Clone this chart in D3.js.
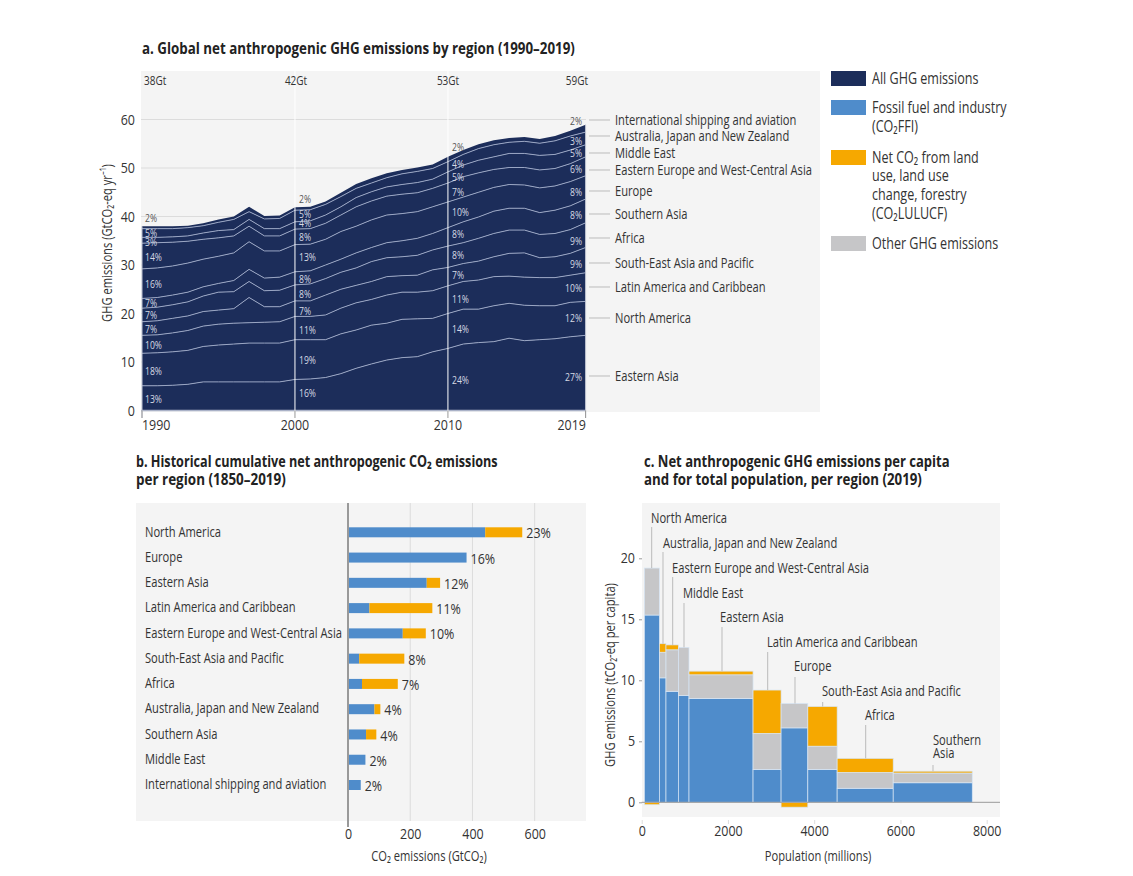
<!DOCTYPE html>
<html>
<head>
<meta charset="utf-8">
<script src="https://cdn.jsdelivr.net/npm/d3@7"></script>
<style>
  html, body { margin: 0; padding: 0; background: #fff; }
  svg { display: block; }
  text { font-family: "Open Sans", "Noto Sans", sans-serif; fill: #333; }
  .title { font-weight: bold; font-size: 15.5px; fill: #222; }
  .label { font-size: 15px; }
  .num { font-size: 14.5px; }
  .total { font-size: 12.5px; }
  .legend { font-size: 15.5px; }
  .pct { font-size: 10.5px; fill: #d5d9e4; }
</style>
</head>
<body>
<div id="chart"></div>
<script>
// panel a: emissions per region, GtCO2-eq per year
const years = d3.range(1990, 2020);
const easternAsia = [5.1,5.1,5.2,5.4,5.9,5.9,5.9,5.9,5.9,5.9,6.4,6.5,6.8,7.6,8.7,9.6,10.4,10.9,11.1,12.1,12.8,13.7,14.0,14.2,14.9,14.4,14.6,14.8,15.2,15.5];
const northAmerica = [6.7,6.8,6.9,7.0,7.3,7.6,7.8,8.0,8.0,8.0,8.2,8.1,7.8,8.2,7.9,8.0,7.6,7.9,7.8,6.9,7.2,7.2,6.9,7.4,7.2,7.3,7.0,6.8,7.1,7.0];
const latinAmerica = [3.7,3.7,3.9,4.1,4.2,4.3,4.3,4.2,4.3,4.4,4.8,4.8,5.1,5.3,5.6,5.3,5.8,5.6,5.5,5.7,5.7,5.7,6.0,6.0,5.6,5.8,5.8,5.8,5.6,5.9];
const southEastAsia = [2.8,2.9,3.0,3.0,3.0,2.9,3.0,5.2,3.2,3.1,3.2,3.2,4.1,3.9,3.6,3.7,3.8,3.4,3.5,4.3,3.8,3.7,3.9,4.1,4.7,5.0,4.1,4.3,4.5,5.2];
const africa = [2.8,2.8,2.8,2.9,3.2,3.7,3.5,3.3,3.3,3.4,3.3,3.5,3.4,3.5,3.6,4.1,3.9,3.9,4.1,4.1,4.4,4.3,4.7,4.8,4.8,4.7,4.8,4.8,4.9,5.1];
const southernAsia = [2.0,2.0,2.0,2.0,1.9,1.8,2.3,2.5,2.6,2.7,2.7,2.7,2.8,2.7,3.1,2.9,3.1,3.3,3.5,3.4,3.8,4.3,4.4,4.6,4.5,4.5,4.5,4.8,4.9,4.9];
const europe = [6.1,6.1,6.0,6.0,5.7,5.6,5.7,5.7,5.6,5.4,5.6,5.5,5.3,5.7,5.5,5.7,5.7,5.6,5.5,5.5,5.3,5.1,5.1,4.9,4.9,4.8,5.1,5.0,5.0,4.8];
const easternEurope = [5.3,5.2,4.9,4.5,4.1,3.8,3.5,3.2,3.1,3.1,3.2,3.2,3.3,3.4,4.0,3.9,3.9,4.0,3.9,3.8,3.9,4.2,4.0,3.7,3.5,3.6,3.7,3.6,3.7,3.9];
const middleEast = [1.2,1.1,1.1,1.1,1.3,1.5,1.3,1.4,1.5,1.5,1.5,1.6,1.7,1.7,1.9,1.9,1.9,2.0,2.1,1.9,2.3,2.4,2.6,2.6,2.9,2.9,3.0,2.9,2.8,2.5];
const australiaJapanNz = [1.8,1.8,1.7,1.7,1.5,1.7,2.1,1.6,2.0,2.1,2.4,2.3,2.2,2.1,1.9,1.8,1.9,2.2,2.3,2.2,2.1,2.2,2.4,2.5,2.3,2.5,2.5,2.8,2.9,2.6];
const shipping = [0.5,0.5,0.5,0.4,0.5,0.6,0.6,1.0,0.6,0.6,0.6,0.6,0.6,0.8,0.9,1.0,0.9,0.8,0.8,0.8,1.0,0.9,0.9,0.9,0.9,0.9,0.9,1.0,1.1,1.5];

const regionSeries = [easternAsia, northAmerica, latinAmerica, southEastAsia, africa, southernAsia, europe, easternEurope, middleEast, australiaJapanNz, shipping];
const regionNames = ["Eastern Asia", "North America", "Latin America and Caribbean", "South-East Asia and Pacific", "Africa", "Southern Asia", "Europe", "Eastern Europe and West-Central Asia", "Middle East", "Australia, Japan and New Zealand", "International shipping and aviation"];

// share of each region in the marked years, same order as regionNames
const markYears = [1990, 2000, 2010, 2019];
const markTotals = ["38Gt", "42Gt", "53Gt", "59Gt"];
const shares1990 = [13,18,10,7,7,7,16,14,3,5,2];
const shares2000 = [16,19,11,7,8,8,13,8,4,5,2];
const shares2010 = [24,14,11,7,8,8,10,7,5,4,2];
const shares2019 = [27,12,10,9,9,8,8,6,5,3,2];

// panel b: cumulative CO2 1850-2019, GtCO2
const cumRegions = ["North America", "Europe", "Eastern Asia", "Latin America and Caribbean", "Eastern Europe and West-Central Asia", "South-East Asia and Pacific", "Africa", "Australia, Japan and New Zealand", "Southern Asia", "Middle East", "International shipping and aviation"];
const cumFossil = [441,381,253,69,176,36,45,85,58,56,41];
const cumLand = [119,0,43,202,74,145,115,19,33,0,0];
const cumShare = [23,16,12,11,10,8,7,4,4,2,2];

// panel c: per capita 2019, ordered by total height
const capitaRegions = ["North America", "Australia, Japan and New Zealand", "Eastern Europe and West-Central Asia", "Middle East", "Eastern Asia", "Latin America and Caribbean", "Europe", "South-East Asia and Pacific", "Africa", "Southern Asia"];
const population = [348,153,288,246,1485,650,620,680,1300,1833];
const capitaFossil = [15.35,10.2,9.1,8.75,8.5,2.7,6.1,2.7,1.15,1.6];
const capitaOther = [3.85,2.1,3.4,3.95,1.95,2.95,2.0,1.9,1.3,0.8];
const capitaLand = [-0.2,0.7,0.4,0,0.3,3.55,-0.4,3.25,1.15,0.15];

const navy = "#1c2d5a", blue = "#4f8ccb", orange = "#f6a800", grey = "#c6c6c8";
const panelBg = "#f4f4f4", gridColor = "#dcdcdc", axisColor = "#999";

const svg = d3.select("#chart").append("svg").attr("width", 1133).attr("height", 876);

// the original face is a condensed one, so squeeze the installed font to the same width
const squeeze = { label: 0.745, num: 0.86, total: 0.8, legend: 0.81, pct: 0.82 };

function addTitle(x, y, lines, widths) {
    lines.forEach((line, i) => {
        svg.append("text").attr("class", "title").attr("x", x).attr("y", y + i * 18)
            .attr("data-width", widths[i]).text(line);
    });
}

function addText(x, y, str, anchor, cls) {
    return svg.append("text").attr("class", cls || "label")
        .attr("x", x).attr("y", y).attr("dy", "0.35em")
        .attr("text-anchor", anchor || "start").text(str);
}

function styleTicks(g) {
    g.select(".domain").remove();
    g.selectAll("text").attr("class", "num").attr("font-size", null);
}

/* ---------- panel a ---------- */
function drawAreaPanel() {
    const x = d3.scaleLinear().domain([1990, 2019]).range([142, 585.6]);
    const y = d3.scaleLinear().domain([0, 60]).range([410.5, 119.5]);

    addTitle(142, 54, ["a. Global net anthropogenic GHG emissions by region (1990–2019)"], [433]);
    svg.append("rect").attr("x", 141).attr("y", 71).attr("width", 679).attr("height", 341).attr("fill", panelBg);

    svg.selectAll(".grid-a").data(y.ticks(6).filter(d => d > 0)).join("line")
        .attr("x1", 141).attr("x2", 586)
        .attr("y1", d => y(d)).attr("y2", d => y(d))
        .attr("stroke", gridColor);

    const table = years.map((yr, i) => {
        const row = { year: yr };
        regionNames.forEach((n, j) => { row[n] = regionSeries[j][i]; });
        return row;
    });
    const stacked = d3.stack().keys(regionNames)(table);

    const area = d3.area().x(d => x(d.data.year)).y0(d => y(d[0])).y1(d => y(d[1]));
    const edge = d3.line().x(d => x(d.data.year)).y(d => y(d[1]));

    svg.selectAll(".band").data(stacked).join("path")
        .attr("d", area).attr("fill", navy);
    svg.selectAll(".edge").data(stacked.slice(0, -1)).join("path")
        .attr("d", edge).attr("fill", "none").attr("stroke", "#9aa6c4").attr("stroke-width", 1);

    // baseline and the year markers
    svg.append("line").attr("x1", 141).attr("x2", 586).attr("y1", y(0)).attr("y2", y(0))
        .attr("stroke", "#aab2c8").attr("stroke-width", 1.5);
    markYears.forEach(yr => {
        const total = d3.sum(regionSeries, s => s[years.indexOf(yr)]);
        const inner = yr === 2000 || yr === 2010;
        svg.append("line").attr("x1", x(yr)).attr("x2", x(yr))
            .attr("y1", inner ? 71 : y(total)).attr("y2", 418)
            .attr("stroke", inner ? "#ffffff" : "#bfc4d2").attr("stroke-width", 1);
        svg.append("line").attr("x1", x(yr)).attr("x2", x(yr)).attr("y1", y(0)).attr("y2", 418)
            .attr("stroke", axisColor);
    });

    // y axis
    const axis = d3.axisLeft(y).tickValues(d3.range(0, 70, 10)).tickSize(0).tickPadding(6);
    svg.append("g").attr("transform", "translate(141,0)").call(axis).call(styleTicks);

    svg.append("text").attr("class", "label")
        .attr("transform", "translate(107,243) rotate(-90)").attr("dy", "0.35em")
        .attr("text-anchor", "middle").text("GHG emissions (GtCO₂-eq yr⁻¹)");

    // year labels and totals
    const yearAnchor = ["start", "middle", "middle", "end"];
    const yearX = [142, 295, 448, 586];
    const totalX = [144, 296, 448, 588];
    markYears.forEach((yr, i) => {
        addText(yearX[i], 425, yr, yearAnchor[i], "num");
        addText(totalX[i], 81, markTotals[i], yearAnchor[i], "total");
    });

    // share labels, hand placed like the original
    const shareRows = [
        { x: 145, anchor: "start", shares: shares1990, ys: [399,371,345,329,315,303,284,257,242,233,218] },
        { x: 299, anchor: "start", shares: shares2000, ys: [393,360,330,311,294,279,257,237,223,214,199] },
        { x: 452, anchor: "start", shares: shares2010, ys: [380,329,299,275,255,234,212,192,177,164,147] },
        { x: 582, anchor: "end", shares: shares2019, ys: [377,318,288,264,241,215,192,169,153,141,121] }
    ];
    shareRows.forEach(row => {
        row.shares.forEach((s, i) => {
            const isTop = i === row.shares.length - 1;
            addText(row.x, row.ys[i], s + "%", row.anchor, "pct")
                .style("fill", isTop ? "#555" : null);
        });
    });

    // region labels at right with leaders
    const labelYs = [376,318,287,263,238,214,191,170,153,136,120];
    regionNames.forEach((n, i) => {
        svg.append("line").attr("x1", 589).attr("x2", 610)
            .attr("y1", labelYs[i]).attr("y2", labelYs[i])
            .attr("stroke", "#bbb");
        addText(615, labelYs[i], n);
    });
}

/* ---------- panel b ---------- */
function drawBarPanel() {
    const x = d3.scaleLinear().domain([0, 600]).range([348, 534.7]);
    const y = d3.scalePoint().domain(cumRegions).range([532.3, 785]);
    const barH = 10;

    addTitle(136, 467, ["b. Historical cumulative net anthropogenic CO₂ emissions", "per region (1850–2019)"], [362, 150]);
    svg.append("rect").attr("x", 136).attr("y", 503).attr("width", 450).attr("height", 318).attr("fill", panelBg);

    svg.selectAll(".grid-b").data([200, 400, 600]).join("line")
        .attr("x1", d => x(d)).attr("x2", d => x(d))
        .attr("y1", 503).attr("y2", 821)
        .attr("stroke", gridColor);

    svg.selectAll(".fossil").data(cumRegions).join("rect")
        .attr("x", x(0)).attr("y", d => y(d) - barH / 2)
        .attr("width", (d, i) => x(cumFossil[i]) - x(0)).attr("height", barH)
        .attr("fill", blue);
    svg.selectAll(".land").data(cumRegions).join("rect")
        .attr("x", (d, i) => x(cumFossil[i])).attr("y", d => y(d) - barH / 2)
        .attr("width", (d, i) => x(cumLand[i]) - x(0)).attr("height", barH)
        .attr("fill", orange);

    cumRegions.forEach((r, i) => {
        addText(145, y(r) - 1, r);
        addText(x(cumFossil[i] + cumLand[i]) + 4, y(r) + 1, cumShare[i] + "%", "start", "num");
    });

    svg.append("line").attr("x1", x(0)).attr("x2", x(0)).attr("y1", 503).attr("y2", 827)
        .attr("stroke", axisColor).attr("stroke-width", 2);

    const axis = d3.axisBottom(x).tickValues([0, 200, 400, 600]).tickSize(0).tickPadding(3);
    svg.append("g").attr("transform", "translate(0,826)").call(axis).call(styleTicks);

    addText(429, 856, "CO₂ emissions (GtCO₂)", "middle");
}

/* ---------- panel c ---------- */
function drawMekkoPanel() {
    const x = d3.scaleLinear().domain([0, 8000]).range([641.7, 986.7]);
    const y = d3.scaleLinear().domain([0, 20]).range([802.3, 558.3]);
    const startPop = 62;

    addTitle(644, 467, ["c. Net anthropogenic GHG emissions per capita", "and for total population, per region (2019)"], [306, 278]);
    svg.append("rect").attr("x", 642).attr("y", 503).attr("width", 358).attr("height", 314).attr("fill", panelBg);

    const rows = capitaRegions.map((r, i) => {
        const from = startPop + d3.sum(population.slice(0, i));
        return { region: r, from, to: from + population[i], fossil: capitaFossil[i], other: capitaOther[i], land: capitaLand[i] };
    });

    const segments = rows.flatMap(d => {
        const top = d.fossil + d.other;
        const parts = [
            { d, y0: 0, y1: d.fossil, fill: blue },
            { d, y0: d.fossil, y1: top, fill: grey }
        ];
        if (d.land > 0) parts.push({ d, y0: top, y1: top + d.land, fill: orange });
        if (d.land < 0) parts.push({ d, y0: d.land, y1: 0, fill: orange });
        return parts;
    });

    svg.selectAll(".seg").data(segments).join("rect")
        .attr("x", s => x(s.d.from)).attr("width", s => x(s.d.to) - x(s.d.from))
        .attr("y", s => y(s.y1)).attr("height", s => y(s.y0) - y(s.y1))
        .attr("fill", s => s.fill)
        .attr("stroke", "#d7e6f5").attr("stroke-width", 0.7);

    svg.append("line").attr("x1", x(0)).attr("x2", 1000).attr("y1", y(0)).attr("y2", y(0))
        .attr("stroke", axisColor);

    const yAxis = d3.axisLeft(y).tickValues([0, 5, 10, 15, 20]).tickSize(3).tickPadding(4);
    const gy = svg.append("g").attr("transform", "translate(642,0)").call(yAxis).call(styleTicks);
    gy.selectAll("line").attr("stroke", axisColor);

    const xAxis = d3.axisBottom(x).tickValues([0, 2000, 4000, 6000, 8000])
        .tickFormat(d3.format("d")).tickSize(4).tickPadding(2);
    const gx = svg.append("g").attr("transform", "translate(0,820)").call(xAxis).call(styleTicks);
    gx.selectAll("line").attr("stroke", "#ddd");

    svg.append("text").attr("class", "label")
        .attr("transform", "translate(610,675) rotate(-90)").attr("dy", "0.35em")
        .attr("text-anchor", "middle").text("GHG emissions (tCO₂-eq per capita)");
    addText(818, 856, "Population (millions)", "middle");

    // callouts: label x, label y, leader x, leader start y
    const callouts = [
        { x: 651, y: 518, lx: 651.7, ly: 527 },
        { x: 663, y: 543, lx: 663, ly: 552 },
        { x: 672, y: 568, lx: 672.7, ly: 577 },
        { x: 683, y: 592.5, lx: 684, ly: 603 },
        { x: 720, y: 617, lx: 722, ly: 627 },
        { x: 767, y: 642, lx: 767.7, ly: 652 },
        { x: 794, y: 666, lx: 795, ly: 677 },
        { x: 822, y: 691, lx: 822.7, ly: 702 },
        { x: 865, y: 715, lx: 865.7, ly: 725 },
        { x: 933, y: 740, lx: 933, ly: 765 }
    ];
    rows.forEach((d, i) => {
        const c = callouts[i];
        const top = d.fossil + d.other + Math.max(d.land, 0);
        svg.append("line").attr("x1", c.lx).attr("x2", c.lx).attr("y1", c.ly).attr("y2", y(top))
            .attr("stroke", "#bbb");
        if (d.region === "Southern Asia") {
            addText(c.x, c.y, "Southern");
            addText(c.x, c.y + 13, "Asia");
        } else {
            addText(c.x, c.y, d.region);
        }
    });
}

/* ---------- legend ---------- */
function drawLegend() {
    const items = [
        { color: navy, top: 71, lines: [["All GHG emissions", 79]] },
        { color: blue, top: 100, lines: [["Fossil fuel and industry", 108], ["(CO₂FFI)", 127]] },
        { color: orange, top: 150, lines: [["Net CO₂ from land", 158], ["use, land use", 176], ["change, forestry", 195], ["(CO₂LULUCF)", 214]] },
        { color: grey, top: 236, lines: [["Other GHG emissions", 244]] }
    ];
    items.forEach(item => {
        svg.append("rect").attr("x", 831).attr("y", item.top).attr("width", 35).attr("height", 15).attr("fill", item.color);
        item.lines.forEach(l => addText(872, l[1], l[0], "start", "legend"));
    });
}

drawAreaPanel();
drawBarPanel();
drawMekkoPanel();
drawLegend();

// condense every text horizontally around its anchor point
svg.selectAll("text").each(function() {
    const fixedWidth = +this.getAttribute("data-width");
    const k = fixedWidth ? fixedWidth / this.getComputedTextLength() : squeeze[this.getAttribute("class")];
    if (!k) return;
    const ax = +this.getAttribute("x") || 0;
    const before = this.getAttribute("transform") || "";
    this.setAttribute("transform", `${before} translate(${ax},0) scale(${k},1) translate(${-ax},0)`);
});
</script>
</body>
</html>
